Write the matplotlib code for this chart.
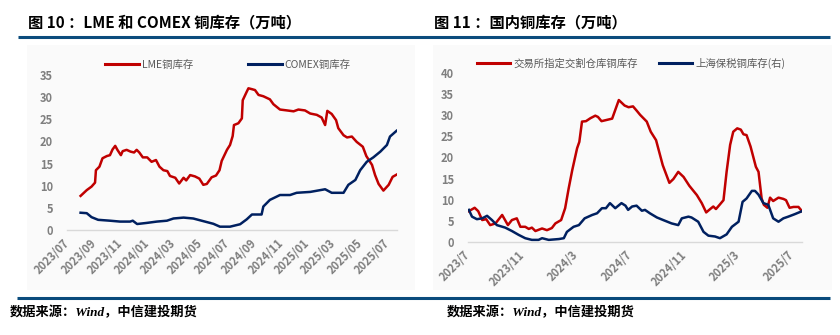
import matplotlib
matplotlib.use("Agg")
import matplotlib.pyplot as plt
from matplotlib.patches import Rectangle
from matplotlib.lines import Line2D
import pandas as pd

plt.rcParams['font.family'] = ['Noto Sans CJK SC', 'DejaVu Sans']

# ---------------- data: left chart (LME / COMEX copper stocks, 10k t) ----------------
lme_dates = ["2023-08-01", "2023-08-15", "2023-08-26", "2023-09-03", "2023-09-05", "2023-09-13",
             "2023-09-20", "2023-09-30", "2023-10-07", "2023-10-13", "2023-10-19", "2023-10-24",
             "2023-11-01", "2023-11-05", "2023-11-14", "2023-11-23", "2023-12-01", "2023-12-07",
             "2023-12-13", "2023-12-21", "2023-12-31", "2024-01-10", "2024-01-20", "2024-01-28",
             "2024-02-06", "2024-02-15", "2024-02-21", "2024-03-04", "2024-03-13", "2024-03-23",
             "2024-03-29", "2024-04-07", "2024-04-18", "2024-04-28", "2024-05-07", "2024-05-15",
             "2024-05-26", "2024-06-05", "2024-06-13", "2024-06-18", "2024-06-30", "2024-07-07",
             "2024-07-13", "2024-07-16", "2024-07-26", "2024-08-03", "2024-08-05", "2024-08-14",
             "2024-08-18", "2024-08-26", "2024-09-02", "2024-09-10", "2024-09-21", "2024-10-06",
             "2024-10-14", "2024-10-29", "2024-11-14", "2024-11-29", "2024-12-10", "2024-12-25",
             "2025-01-06", "2025-01-21", "2025-02-01", "2025-02-09", "2025-02-14", "2025-02-24",
             "2025-03-06", "2025-03-11", "2025-03-23", "2025-03-31", "2025-04-11", "2025-04-22",
             "2025-05-06", "2025-05-14", "2025-05-27", "2025-06-03", "2025-06-11", "2025-06-22",
             "2025-07-04", "2025-07-13", "2025-07-22"]
lme_values = [7.7, 9.0, 9.8, 10.7, 13.5, 14.3,
              16.2, 16.7, 16.9, 18.2, 19.0, 18.1,
              16.9, 17.8, 18.1, 17.7, 17.5, 18.1,
              17.5, 16.4, 16.4, 15.4, 15.8, 14.3,
              13.5, 13.3, 12.2, 11.8, 10.5, 11.8,
              11.2, 12.4, 12.1, 11.6, 10.2, 10.4,
              11.9, 12.3, 13.5, 15.6, 18.1, 19.2,
              21.2, 23.7, 24.1, 25.2, 29.3, 31.2,
              32.0, 31.8, 31.6, 30.5, 30.2, 29.5,
              28.4, 27.2, 27.0, 26.8, 27.2, 27.0,
              26.3, 26.0, 25.4, 23.7, 26.9, 26.2,
              24.8, 23.0, 21.4, 20.9, 21.1, 19.9,
              18.8, 16.7, 14.7, 12.4, 10.4, 8.9,
              10.2, 12.0, 12.5]

comex_dates = ["2023-08-01", "2023-08-15", "2023-08-26", "2023-09-10", "2023-10-07", "2023-10-30",
               "2023-11-22", "2023-11-28", "2023-12-08", "2023-12-30", "2024-01-22", "2024-02-14",
               "2024-02-29", "2024-03-23", "2024-04-14", "2024-05-07", "2024-05-30", "2024-06-14",
               "2024-07-07", "2024-07-30", "2024-08-14", "2024-08-26", "2024-09-17", "2024-09-21",
               "2024-10-06", "2024-10-29", "2024-11-21", "2024-12-06", "2025-01-06", "2025-02-09",
               "2025-02-24", "2025-03-23", "2025-04-03", "2025-04-19", "2025-04-30", "2025-05-15",
               "2025-05-30", "2025-06-15", "2025-06-30", "2025-07-07", "2025-07-22"]
comex_values = [3.9, 3.8, 2.9, 2.3, 2.1, 1.9,
                1.9, 2.1, 1.35, 1.6, 1.9, 2.1,
                2.6, 2.8, 2.6, 2.0, 1.4, 0.75,
                0.75, 1.3, 2.4, 3.5, 3.5, 5.3,
                6.8, 7.9, 7.9, 8.4, 8.6, 9.2,
                8.4, 8.4, 10.2, 11.3, 13.5, 15.4,
                16.4, 17.7, 19.2, 21.1, 22.4]

# ---------------- data: right chart (domestic copper stocks, 10k t) ----------------
shfe_dates = ["2023-07-03", "2023-07-16", "2023-07-24", "2023-08-02", "2023-08-11", "2023-08-20",
              "2023-09-01", "2023-09-16", "2023-09-29", "2023-10-08", "2023-10-19", "2023-10-27",
              "2023-11-07", "2023-11-15", "2023-11-22", "2023-11-30", "2023-12-15", "2023-12-26",
              "2024-01-06", "2024-01-14", "2024-01-27", "2024-02-05", "2024-02-13", "2024-02-21",
              "2024-03-03", "2024-03-08", "2024-03-14", "2024-03-23", "2024-04-02", "2024-04-13",
              "2024-04-19", "2024-04-27", "2024-05-13", "2024-05-21", "2024-06-05", "2024-06-18",
              "2024-06-27", "2024-07-07", "2024-07-16", "2024-07-23", "2024-08-07", "2024-08-16",
              "2024-08-28", "2024-09-12", "2024-09-27", "2024-10-06", "2024-10-17", "2024-10-29",
              "2024-11-11", "2024-11-28", "2024-12-09", "2024-12-19", "2024-12-28", "2025-01-04",
              "2025-01-10", "2025-01-19", "2025-01-27", "2025-02-03", "2025-02-11", "2025-02-18",
              "2025-02-27", "2025-03-07", "2025-03-13", "2025-03-20", "2025-03-29", "2025-04-10",
              "2025-04-16", "2025-04-23", "2025-04-28", "2025-05-06", "2025-05-12", "2025-05-19",
              "2025-05-31", "2025-06-11", "2025-06-17", "2025-06-25", "2025-07-04", "2025-07-15",
              "2025-07-23"]
shfe_values = [7.3, 8.1, 7.3, 5.2, 5.4, 4.0,
               4.4, 6.4, 4.0, 5.2, 5.6, 3.6,
               3.6, 3.1, 3.4, 2.6, 3.2, 2.8,
               3.3, 4.4, 5.2, 8.0, 12.7, 17.0,
               22.2, 23.7, 28.5, 28.6, 29.3, 29.9,
               29.6, 28.6, 29.0, 29.2, 33.6, 32.3,
               31.9, 32.1, 31.0, 30.1, 28.5, 26.1,
               24.1, 18.2, 14.0, 14.9, 16.6, 15.4,
               13.3, 11.1, 9.2, 7.0, 7.8, 8.4,
               7.8, 8.9, 9.9, 16.6, 23.0, 26.1,
               26.9, 26.6, 25.5, 25.3, 22.6, 17.8,
               16.6, 10.3, 8.8, 8.1, 10.5, 9.7,
               10.5, 10.2, 9.9, 8.1, 8.3, 8.3,
               7.3]

bonded_dates = ["2023-07-03", "2023-07-10", "2023-07-21", "2023-08-02", "2023-08-13", "2023-08-24",
                "2023-09-04", "2023-09-23", "2023-10-08", "2023-10-23", "2023-11-07", "2023-11-22",
                "2023-12-07", "2023-12-15", "2023-12-30", "2024-01-22", "2024-02-02", "2024-02-09",
                "2024-02-24", "2024-03-07", "2024-03-20", "2024-04-06", "2024-04-17", "2024-04-28",
                "2024-05-07", "2024-05-16", "2024-05-28", "2024-06-11", "2024-06-20", "2024-06-26",
                "2024-07-05", "2024-07-15", "2024-07-27", "2024-08-03", "2024-08-14", "2024-08-30",
                "2024-09-13", "2024-10-02", "2024-10-17", "2024-10-25", "2024-11-09", "2024-11-16",
                "2024-12-01", "2024-12-13", "2024-12-24", "2025-01-08", "2025-01-19", "2025-02-03",
                "2025-02-15", "2025-03-02", "2025-03-11", "2025-03-20", "2025-04-01", "2025-04-08",
                "2025-04-16", "2025-04-27", "2025-05-08", "2025-05-19", "2025-05-31", "2025-06-11",
                "2025-06-22", "2025-07-07", "2025-07-23"]
bonded_values = [7.6, 6.0, 5.4, 5.6, 6.2, 5.2,
                 4.0, 3.4, 2.6, 1.7, 0.9, 0.5,
                 0.5, 0.9, 0.5, 0.7, 0.9, 2.4,
                 3.6, 4.0, 5.6, 6.4, 6.8, 8.0,
                 8.0, 9.2, 8.0, 9.2, 8.6, 7.6,
                 8.4, 8.6, 7.4, 7.6, 6.8, 5.8,
                 5.2, 4.4, 4.0, 5.6, 6.0, 5.8,
                 4.8, 2.4, 1.5, 1.3, 0.9, 1.8,
                 3.6, 4.8, 9.5, 10.3, 12.1, 12.1,
                 11.2, 9.2, 8.8, 5.6, 4.8, 5.6,
                 6.0, 6.6, 7.3]

left_ticks = ["2023/07", "2023/09", "2023/11", "2024/01", "2024/03", "2024/05", "2024/07",
              "2024/09", "2024/11", "2025/01", "2025/03", "2025/05", "2025/07"]
right_ticks = ["2023/7", "2023/11", "2024/3", "2024/7", "2024/11", "2025/3", "2025/7"]

RED = "#C00000"
NAVY = "#002060"
GRAY = "#7F7F7F"
BAND = "#0B4C7D"

W, H = 840, 335
fig = plt.figure(figsize=(W / 100, H / 100), dpi=100)
fig.patch.set_facecolor("white")

def fx(px):
    return px / W

def fy(py):
    return 1 - py / H

# faint panel backgrounds
fig.patches.append(Rectangle((fx(27), fy(290)), fx(415) - fx(27), fy(45) - fy(290),
                             transform=fig.transFigure, facecolor="#FAFAFA", edgecolor="none", zorder=-5))
fig.patches.append(Rectangle((fx(433), fy(290)), fx(832) - fx(433), fy(45) - fy(290),
                             transform=fig.transFigure, facecolor="#FAFAFA", edgecolor="none", zorder=-5))

# header / footer bands
fig.add_artist(Line2D([fx(18), fx(830)], [fy(36.5), fy(36.5)], transform=fig.transFigure,
                      color=BAND, lw=2.2, solid_capstyle="butt"))
fig.add_artist(Line2D([fx(17), fx(830)], [fy(297.5), fy(297.5)], transform=fig.transFigure,
                      color=BAND, lw=2.2, solid_capstyle="butt"))

title_kw = dict(fontsize=11, fontweight="bold", color="black", va="center", ha="left")
fig.text(fx(28), fy(22), "图 10 ：LME 和 COMEX 铜库存（万吨）", **title_kw)
fig.text(fx(434), fy(22), "图 11 ：国内铜库存（万吨）", **title_kw)

foot_kw = dict(fontsize=9.5, fontweight="bold", style="italic", color="black", va="center", ha="left",
               family=["Liberation Serif", "Noto Sans CJK SC"])
fig.text(fx(10), fy(312), "数据来源：Wind，中信建投期货", **foot_kw)
fig.text(fx(447), fy(312), "数据来源：Wind，中信建投期货", **foot_kw)


def style_axis(ax, ymax, tick_labels, tick_dates, xmax):
    ax.set_facecolor("none")
    ax.set_zorder(2)
    for s in ["top", "right", "left"]:
        ax.spines[s].set_visible(False)
    ax.spines["bottom"].set_color("#D9D9D9")
    ax.spines["bottom"].set_linewidth(1.0)
    ax.set_ylim(0, ymax)
    ax.set_yticks(list(range(0, ymax + 1, 5)))
    ax.set_xlim(pd.Timestamp("2023-07-01"), pd.Timestamp(xmax))
    ax.set_xticks(pd.to_datetime(tick_dates))
    ax.set_xticklabels(tick_labels, rotation=45, ha="right", va="center", rotation_mode="anchor")
    ax.tick_params(axis="both", length=0, labelsize=8, labelcolor=GRAY)
    ax.tick_params(axis="y", pad=10)
    ax.tick_params(axis="x", pad=8)
    for lab in ax.get_xticklabels() + ax.get_yticklabels():
        lab.set_fontweight("bold")


# ---------------- left chart ----------------
axL = fig.add_axes([fx(67), fy(230), fx(397) - fx(67), fy(75) - fy(230)])
axL.plot(pd.to_datetime(lme_dates), lme_values, color=RED, lw=1.8, label="LME铜库存")
axL.plot(pd.to_datetime(comex_dates), comex_values, color=NAVY, lw=1.8, label="COMEX铜库存")
left_tick_dates = [lab.replace("/", "-") + "-01" for lab in left_ticks]
style_axis(axL, 35, left_ticks, left_tick_dates, "2025-07-23")
legL = axL.legend(loc="center", bbox_to_anchor=(fx(228), fy(65)), bbox_transform=fig.transFigure,
                  ncol=2, frameon=False, fontsize=7.5, handlelength=3.2, handletextpad=0.3,
                  columnspacing=5.3, labelcolor="#595959")
for line in legL.get_lines():
    line.set_linewidth(2.2)

# ---------------- right chart ----------------
axR = fig.add_axes([fx(468), fy(242), fx(802) - fx(468), fy(73) - fy(242)])
axR.plot(pd.to_datetime(shfe_dates), shfe_values, color=RED, lw=1.8, label="交易所指定交割仓库铜库存")
axR.plot(pd.to_datetime(bonded_dates), bonded_values, color=NAVY, lw=1.8, label="上海保税铜库存(右)")
right_tick_dates = []
for lab in right_ticks:
    y_, m_ = lab.split("/")
    right_tick_dates.append(f"{y_}-{int(m_):02d}-01")
style_axis(axR, 40, right_ticks, right_tick_dates, "2025-07-23")
legR = axR.legend(loc="center", bbox_to_anchor=(fx(631), fy(63)), bbox_transform=fig.transFigure,
                  ncol=2, frameon=False, fontsize=7.5, handlelength=3.2, handletextpad=0.3,
                  columnspacing=2.0, labelcolor="#595959")
for line in legR.get_lines():
    line.set_linewidth(2.2)

fig.savefig("out.png", dpi=100, facecolor="white")
